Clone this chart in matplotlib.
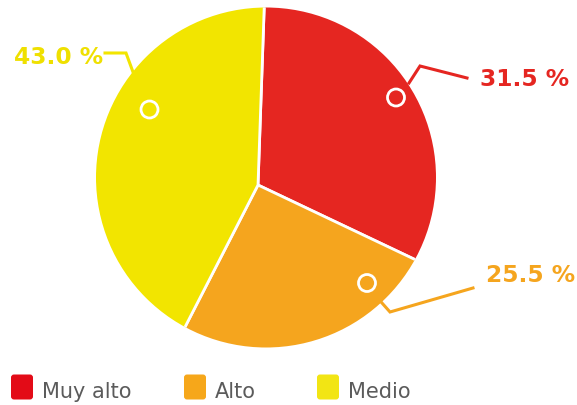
import numpy as np
import matplotlib.pyplot as plt
from matplotlib.patches import FancyBboxPatch, Circle

categories = ['Muy alto', 'Alto', 'Medio']
values = [31.5, 25.5, 43.0]
value_labels = ['31.5 %', '25.5 %', '43.0 %']
wedge_colors = ['#E52621', '#F5A51E', '#F2E500']
legend_colors = ['#E30B17', '#F6A71A', '#F2E514']

W, H = 577, 405

def py(y):
    # pixel row -> data y (axis runs bottom-up)
    return H - y

# ----------------------------------- layout (pixels) ---------------------------------
apex = (258, py(185))          # where the slices meet
disc = (266, py(177.5))        # outline of the pie
radius = 170
start_angle = 88

# leader lines, marker rings and label anchors, in the order of categories
leaders = [
    [(409, 83), (420, 66), (467, 78)],
    [(382, 303), (390, 312), (473, 288)],
    [(133, 72), (126, 53), (105, 53)],
]
rings = [(396, 97.5), (367, 283), (149.5, 109.5)]
label_pos = [(480, 79, 'left'), (486, 276, 'left'), (103, 57, 'right')]
legend_x = [11, 184, 317]
legend_y = 387

fig = plt.figure(figsize=(W / 100, H / 100), dpi=100)
ax = fig.add_axes([0, 0, 1, 1])

wedges, _ = ax.pie(values, colors=wedge_colors, startangle=start_angle,
                   counterclock=False, center=apex, radius=radius + 30,
                   wedgeprops=dict(edgecolor='white', linewidth=2))

ax.set_xlim(0, W)
ax.set_ylim(0, H)
ax.set_aspect('equal')
ax.axis('off')

outline = Circle(disc, radius, transform=ax.transData)
for w in wedges:
    w.set_clip_on(True)
    w.set_clip_path(outline)

for i in range(len(values)):
    xs = [p[0] for p in leaders[i]]
    ys = [py(p[1]) for p in leaders[i]]
    ax.plot(xs, ys, color=wedge_colors[i], linewidth=2.2, solid_joinstyle='miter')
    ax.add_patch(Circle((rings[i][0], py(rings[i][1])), 8.5, fill=False,
                        edgecolor='white', linewidth=2))
    lx, ly, ha = label_pos[i]
    ax.text(lx, py(ly), value_labels[i], color=wedge_colors[i] if i != 2 else '#EFE000',
            fontsize=16.8, fontweight='bold', family='DejaVu Sans',
            ha=ha, va='center')

# legend
for i, name in enumerate(categories):
    x0 = legend_x[i]
    ax.add_patch(FancyBboxPatch((x0 + 3, py(legend_y) - 9.5), 16, 19,
                                boxstyle='round,pad=3', facecolor=legend_colors[i],
                                edgecolor='none'))
    ax.text(x0 + 31, py(398), name, color='#5B5B5B', fontsize=15,
            family='DejaVu Sans', ha='left', va='baseline')

fig.savefig('out.png', dpi=100)
